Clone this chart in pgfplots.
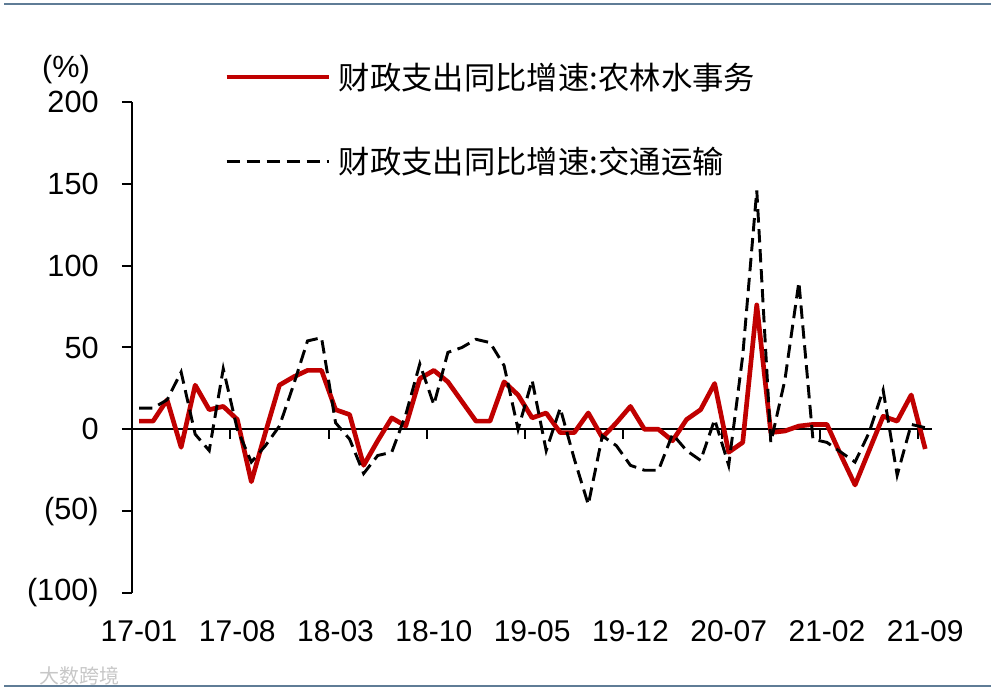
\documentclass[border=0pt]{standalone}
\usepackage{pgfplots}
\usepackage{pgfplotstable}
\pgfplotsset{compat=1.18}
\usepackage{fontspec}
\setmainfont{Liberation Sans}
\newfontfamily\cjk{Noto Sans CJK SC}
\definecolor{myred}{HTML}{C00000}
\definecolor{framec}{HTML}{5F7C96}

\pgfplotstableread{
i a b
0 5 13
1 5 13
2 18 18
3 -11 35
4 27 -3
5 12 -13
6 14 37
7 6 0
8 -32 -20
9 -2 -10
10 27 2
11 32 27
12 36 54
13 36 56
14 12 4
15 9 -6
16 -22 -27
17 -7 -16
18 7 -14
19 2 9
20 31 40
21 36 15
22 29 47
23 17 50
24 5 55
25 5 53
26 29 39
27 21 0
28 7 30
29 10 -13
30 -2 13
31 -2 -18
32 10 -46
33 -5 -4
34 4 -10
35 14 -22
36 0 -25
37 0 -25
38 -7 -3
39 6 -13
40 12 -19
41 28 6
42 -14 -22
43 -8 45
44 76 146
45 -2 -8
46 -1 30
47 2 90
48 3 -6
49 3 -8
50 -16 -14
51 -34 -20
52 -13 -2
53 8 24
54 5 -28
55 21 3
56 -12 1
}\data

\begin{document}
\begin{tikzpicture}
\path[use as bounding box] (0pt,0pt) rectangle (746.25pt,521.25pt);
\draw[framec, line width=2.2pt] (3pt,518.25pt) -- (743.25pt,518.25pt);
\draw[framec, line width=2.2pt] (3pt,6.75pt) -- (743.25pt,6.75pt);
\node[black!22, font=\cjk\fontsize{15}{15}\selectfont, anchor=west] at (26.25pt,14.25pt) {大数跨境};
\node[font=\fontsize{23}{24}\selectfont] at (49.5pt,469pt) {(\%)};
\begin{axis}[
  at={(99pt,76.5pt)}, anchor=south west, scale only axis,
  width=600.2pt, height=368.25pt,
  xmin=-0.5, xmax=56.5, ymin=-100, ymax=200,
  axis y line=left, axis x line*=bottom,
  x axis line style={draw=none},
  y axis line style={-, line width=1.5pt},
  ytick={-100,-50,0,50,100,150,200},
  yticklabels={(100),(50),0,50,100,150,200},
  xtick={0,7,14,21,28,35,42,49,56},
  xticklabels={17-01,17-08,18-03,18-10,19-05,19-12,20-07,21-02,21-09},
  tick align=outside, major tick length=7.5pt,
  xtick style={draw=none},
  ytick style={line width=1.5pt, black},
  xticklabel style={font=\fontsize{22.5}{24}\selectfont, yshift=-9.5pt},
  yticklabel style={font=\fontsize{23}{24}\selectfont, xshift=-14pt},
  clip=false,
  legend style={draw=none, fill=none, at={(axis description cs:0.115,1.086)}, anchor=north west,
    font=\cjk\fontsize{23.5}{25}\selectfont, row sep=38pt, inner sep=0pt,
    /tikz/every odd column/.append style={column sep=4pt}},
  legend cell align=left,
  legend image code/.code={\draw[#1] (0pt,0pt) -- (76.5pt,0pt);},
]
\draw[line width=1.5pt] (axis cs:-0.5,0) -- (axis cs:56.5,0);
\pgfplotsinvokeforeach{-0.5,6.5,13.5,20.5,27.5,34.5,41.5,48.5,55.5}{\draw[line width=1.5pt] (axis cs:#1,0) -- (axis cs:#1,-6.1);}
\addplot[myred, line width=3.5pt, line join=round] table[x=i,y=a] {\data};
\addlegendentry{财政支出同比增速:农林水事务}
\addplot[black, line width=2.2pt, dash pattern=on 10pt off 5pt] table[x=i,y=b] {\data};
\addlegendentry{财政支出同比增速:交通运输}
\end{axis}
\end{tikzpicture}
\end{document}
